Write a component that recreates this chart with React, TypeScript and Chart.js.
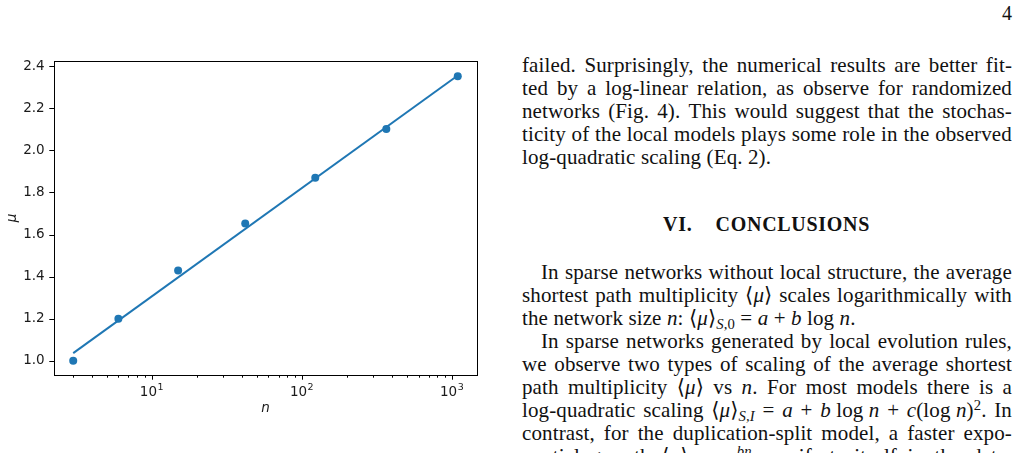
import React, { useEffect, useRef } from 'react';
import { Chart, registerables } from 'chart.js';

Chart.register(...registerables);

// ---- data ----
const sizes = [3, 6, 15, 42, 123, 366, 1095];
const muValues = [1.0, 1.2, 1.429, 1.652, 1.87, 2.102, 2.353];
const fitSizes = [3, 1095];
const fitMu = [1.036, 2.356];
const yTickValues = [1.0, 1.2, 1.4, 1.6, 1.8, 2.0, 2.2, 2.4];
const xMajorTicks = [10, 100, 1000];
const xTickBase = '10';
const xTickExponents = ['1', '2', '3'];
const xMinorTicks = [3, 4, 5, 6, 7, 8, 9, 20, 30, 40, 50, 60, 70, 80, 90, 200, 300, 400, 500, 600, 700, 800, 900];

const BLUE = '#1f77b4';
const TXT = '#1a1a1a';
const SANS = '"DejaVu Sans", sans-serif';
const TICK_SIZE = 13.5;

const framePlugin = {
  id: 'mplFrame',
  afterDraw(chart: any) {
    const { ctx, chartArea: a, scales } = chart;
    const xs = scales.x;
    const ys = scales.y;
    ctx.save();
    ctx.strokeStyle = '#000';
    ctx.lineWidth = 1;
    ctx.beginPath();
    xs.ticks.forEach((t: any) => {
      const px = Math.round(xs.getPixelForValue(t.value)) + 0.5;
      const len = xMajorTicks.includes(t.value) ? 4.7 : 2.7;
      ctx.moveTo(px, a.bottom);
      ctx.lineTo(px, a.bottom + len);
    });
    ys.ticks.forEach((t: any) => {
      const py = Math.round(ys.getPixelForValue(t.value)) + 0.5;
      ctx.moveTo(a.left - 4.7, py);
      ctx.lineTo(a.left, py);
    });
    ctx.stroke();
    ctx.strokeRect(
      Math.round(a.left) + 0.5,
      Math.round(a.top) + 0.5,
      Math.round(a.right - a.left),
      Math.round(a.bottom - a.top)
    );

    // x tick labels as 10^k with a raised exponent (matplotlib style)
    ctx.fillStyle = TXT;
    ctx.textAlign = 'left';
    ctx.textBaseline = 'alphabetic';
    const baseFont = `${TICK_SIZE}px ${SANS}`;
    const expFont = `9.5px ${SANS}`;
    xMajorTicks.forEach((v, k) => {
      const px = xs.getPixelForValue(v);
      ctx.font = baseFont;
      const wBase = ctx.measureText(xTickBase).width;
      ctx.font = expFont;
      const wExp = ctx.measureText(xTickExponents[k]).width;
      const x0 = px - (wBase + wExp + 0.5) / 2;
      const baseline = a.bottom + 20.5;
      ctx.font = baseFont;
      ctx.fillText(xTickBase, x0, baseline);
      ctx.font = expFont;
      ctx.fillText(xTickExponents[k], x0 + wBase + 0.5, baseline - 6);
    });
    ctx.restore();
  },
};

function PlotCanvas() {
  const ref = useRef<HTMLCanvasElement | null>(null);
  useEffect(() => {
    if (!ref.current) return;
    const tickFont = { family: SANS, size: TICK_SIZE };
    const titleFont = { family: SANS, size: TICK_SIZE, style: 'italic' as const };
    const chart = new Chart(ref.current, {
      type: 'scatter',
      data: {
        datasets: [
          {
            label: 'data',
            data: sizes.map((n, i) => ({ x: n, y: muValues[i] })),
            backgroundColor: BLUE,
            borderColor: BLUE,
            borderWidth: 0,
            pointRadius: 4,
            pointHoverRadius: 4,
            showLine: false,
          },
          {
            label: 'fit',
            data: fitSizes.map((n, i) => ({ x: n, y: fitMu[i] })),
            borderColor: BLUE,
            backgroundColor: BLUE,
            borderWidth: 2,
            pointRadius: 0,
            showLine: true,
            fill: false,
          },
        ],
      },
      options: {
        animation: false,
        responsive: false,
        devicePixelRatio: 1,
        events: [],
        layout: { padding: { left: 0, top: 61, right: 23, bottom: 32 } },
        plugins: { legend: { display: false }, tooltip: { enabled: false } },
        scales: {
          x: {
            type: 'logarithmic',
            position: 'bottom',
            min: 2.234,
            max: 1471,
            afterBuildTicks: (s: any) => {
              const all = [...xMinorTicks, ...xMajorTicks].sort((p, q) => p - q);
              s.ticks = all.map((v) => ({ value: v }));
            },
            afterFit: (s: any) => {
              s.height = 46;
            },
            ticks: { display: false, autoSkip: false, maxRotation: 0, minRotation: 0 },
            grid: { display: false, drawTicks: false, tickLength: 0 },
            border: { display: false },
            title: { display: true, text: 'n', font: titleFont, color: TXT, padding: { top: 0, bottom: 4 } },
          },
          y: {
            type: 'linear',
            min: 0.932,
            max: 2.425,
            afterBuildTicks: (s: any) => {
              s.ticks = yTickValues.map((v) => ({ value: v }));
            },
            afterFit: (s: any) => {
              s.width = 54;
            },
            ticks: {
              autoSkip: false,
              padding: 9.4,
              font: tickFont,
              color: TXT,
              callback: (v: any) => Number(v).toFixed(1),
            },
            grid: { display: false, drawTicks: false, tickLength: 0 },
            border: { display: false },
            title: { display: true, text: '\u03bc', font: titleFont, color: TXT, padding: { top: 4, bottom: 0 } },
          },
        },
      },
      plugins: [framePlugin],
    } as any);
    return () => chart.destroy();
  }, []);
  return (
    <canvas
      ref={ref}
      width={500}
      height={453}
      style={{ position: 'absolute', left: 0, top: 0, width: 500, height: 453, display: 'block' }}
    />
  );
}

// ---- text column ----
const Sub = ({ children }: any) => (
  <span style={{ fontSize: '0.7em', verticalAlign: '-0.3em', lineHeight: 0 }}>{children}</span>
);
const Sup = ({ children }: any) => (
  <span style={{ fontSize: '0.7em', verticalAlign: '0.5em', lineHeight: 0 }}>{children}</span>
);
const Mu = () => (
  <span>
    {'\u27e8'}
    <i>μ</i>
    {'\u27e9'}
  </span>
);

const BASE: any = {
  fontFamily: '"Liberation Serif", "DejaVu Serif", serif',
  fontSize: 21,
  lineHeight: '23px',
  letterSpacing: '0.12px',
  color: '#111',
};

function JLine({ top, left = 522, width = 490, words }: any) {
  return (
    <div
      style={{
        ...BASE,
        position: 'absolute',
        top,
        left,
        width,
        display: 'flex',
        justifyContent: 'space-between',
        alignItems: 'baseline',
        whiteSpace: 'nowrap',
      }}
    >
      {words.map((w: any, i: number) => (
        <span key={i}>{w}</span>
      ))}
    </div>
  );
}

function PLine({ top, left = 522, children }: any) {
  return (
    <div style={{ ...BASE, position: 'absolute', top, left, whiteSpace: 'nowrap' }}>{children}</div>
  );
}

const sp = (s: string) => s.split(' ');

function TextColumn() {
  const t1 = 54;
  const g = 23;
  const t2 = 261;
  return (
    <>
      <div style={{ ...BASE, fontSize: 20, position: 'absolute', top: 2.25, left: 972, width: 40, textAlign: 'right' }}>
        4
      </div>
      <JLine top={t1} words={sp('failed. Surprisingly, the numerical results are better fit-')} />
      <JLine top={t1 + g} words={sp('ted by a log-linear relation, as observe for randomized')} />
      <JLine top={t1 + 2 * g} words={sp('networks (Fig. 4). This would suggest that the stochas-')} />
      <JLine top={t1 + 3 * g} words={sp('ticity of the local models plays some role in the observed')} />
      <PLine top={t1 + 4 * g}>log-quadratic scaling (Eq. 2).</PLine>

      <div
        style={{
          ...BASE,
          fontSize: 20,
          position: 'absolute',
          top: 212.75,
          left: 663,
          width: 207,
          display: 'flex',
          justifyContent: 'space-between',
          fontWeight: 'bold',
          letterSpacing: '0.7px',
          whiteSpace: 'nowrap',
        }}
      >
        <span>VI.</span>
        <span>CONCLUSIONS</span>
      </div>

      <JLine top={t2} left={541} width={471} words={sp('In sparse networks without local structure, the average')} />
      <JLine
        top={t2 + g}
        words={['shortest', 'path', 'multiplicity', <Mu />, 'scales', 'logarithmically', 'with']}
      />
      <PLine top={t2 + 2 * g}>
        the network size <i>n</i>: <Mu />
        <Sub>
          <i>S</i>,0
        </Sub>{' '}
        = <i>a</i> + <i>b</i> log <i>n</i>.
      </PLine>
      <JLine top={t2 + 3 * g} left={541} width={471} words={sp('In sparse networks generated by local evolution rules,')} />
      <JLine top={t2 + 4 * g} words={sp('we observe two types of scaling of the average shortest')} />
      <JLine
        top={t2 + 5 * g}
        words={[
          'path',
          'multiplicity',
          <Mu />,
          'vs',
          <span>
            <i>n</i>.
          </span>,
          'For',
          'most',
          'models',
          'there',
          'is',
          'a',
        ]}
      />
      <JLine
        top={t2 + 6 * g}
        words={[
          'log-quadratic',
          'scaling',
          <span>
            <Mu />
            <Sub>
              <i>S,I</i>
            </Sub>
          </span>,
          '=',
          <i>a</i>,
          '+',
          <span>
            <i>b</i> log <i>n</i>
          </span>,
          '+',
          <span>
            <i>c</i>(log <i>n</i>)<Sup>2</Sup>.
          </span>,
          'In',
        ]}
      />
      <JLine top={t2 + 7 * g} words={sp('contrast, for the duplication-split model, a faster expo-')} />
      <JLine
        top={t2 + 8 * g}
        words={[
          'nential',
          'growth',
          <Mu />,
          '∼',
          <span>
            <i>e</i>
            <Sup>
              <i>bn</i>
            </Sup>
          </span>,
          'manifests',
          'itself',
          'in',
          'the',
          'data.',
        ]}
      />
    </>
  );
}

export default function App() {
  return (
    <div
      style={{
        position: 'fixed',
        left: 0,
        top: 0,
        width: 1018,
        height: 453,
        overflow: 'hidden',
        background: '#fff',
      }}
    >
      <PlotCanvas />
      <TextColumn />
    </div>
  );
}
